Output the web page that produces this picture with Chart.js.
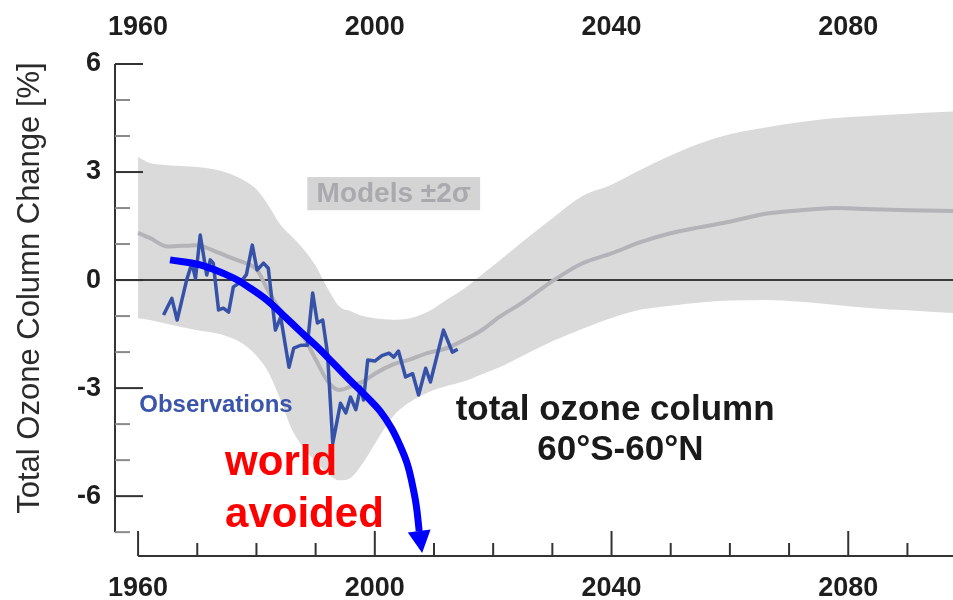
<!DOCTYPE html>
<html>
<head>
<meta charset="utf-8">
<script src="https://cdn.jsdelivr.net/npm/chart.js@4.4.1/dist/chart.umd.min.js"></script>
<style>
  html, body { margin: 0; padding: 0; background: #ffffff; }
  #wrap { width: 953px; height: 600px; position: relative; }
</style>
</head>
<body>
<div id="wrap"><canvas id="ozone"></canvas></div>
<script>
// ---- model ensemble (years, +2 sigma, -2 sigma, mean) ----
const bandYears = [1960, 1962, 1965, 1970, 1973, 1976, 1978, 1980, 1982, 1984,
                   1986, 1988, 1990, 1992, 1994, 1996, 1998, 2000, 2003, 2006,
                   2009, 2012, 2015, 2018, 2021, 2025, 2030, 2035, 2040, 2045,
                   2050, 2055, 2060, 2066, 2072, 2078, 2084, 2090, 2098];
const bandUpper = [3.42, 3.25, 3.19, 3.14, 3.07, 2.92, 2.76, 2.52, 2.08, 1.55,
                   1.20, 0.85, 0.40, -0.22, -0.73, -0.87, -1.00, -1.06, -1.10, -1.06,
                   -0.88, -0.56, -0.25, 0.14, 0.53, 1.07, 1.72, 2.33, 2.65, 3.07,
                   3.46, 3.80, 4.05, 4.24, 4.39, 4.50, 4.56, 4.62, 4.68];
const bandLower = [-1.06, -1.11, -1.22, -1.39, -1.47, -1.62, -1.80, -2.10, -2.55, -3.30,
                   -4.15, -4.66, -5.04, -5.37, -5.56, -5.48, -5.08, -4.55, -3.80, -3.38,
                   -3.12, -2.95, -2.82, -2.62, -2.43, -2.10, -1.70, -1.36, -1.05, -0.82,
                   -0.71, -0.62, -0.57, -0.55, -0.60, -0.69, -0.78, -0.84, -0.92];
const modelMean = [1.31, 1.17, 0.93, 0.97, 0.80, 0.60, 0.48, 0.30, -0.30, -0.85,
                   -1.25, -1.60, -2.20, -2.80, -3.05, -2.95, -2.82, -2.60, -2.35, -2.20,
                   -2.02, -1.90, -1.67, -1.40, -1.03, -0.62, -0.03, 0.46, 0.74, 1.06,
                   1.30, 1.47, 1.62, 1.84, 1.94, 2.00, 1.97, 1.94, 1.92];

// ---- observed total ozone anomaly ----
const obsYears = [1964.3, 1965.7, 1966.6, 1968.2, 1969.1, 1969.7, 1970.5, 1971.6, 1972.2, 1972.7,
                  1973.6, 1974.4, 1975.3, 1976.1, 1977.3, 1978.3, 1979.3, 1980.1, 1981.2, 1982.0,
                  1983.2, 1984.1, 1985.5, 1986.3, 1987.5, 1988.6, 1989.5, 1990.3, 1991.2, 1992.0,
                  1992.9, 1994.2, 1995.1, 1995.9, 1996.8, 1997.6, 1998.1, 1998.8, 2000.0, 2001.2,
                  2002.4, 2003.2, 2004.0, 2005.2, 2006.4, 2007.4, 2008.6, 2009.4, 2011.6, 2013.1,
                  2014.0];
const obsValues = [-0.97, -0.51, -1.11, 0.00, 0.47, 0.05, 1.25, 0.14, 0.56, 0.47,
                   -0.83, -0.78, -0.89, -0.19, -0.06, 0.15, 0.97, 0.28, 0.47, 0.33,
                   -1.39, -1.03, -2.42, -1.89, -1.81, -1.81, -0.36, -1.19, -1.11, -2.03,
                   -4.53, -3.42, -3.69, -3.25, -3.60, -2.97, -3.33, -2.22, -2.25, -2.10,
                   -2.03, -2.14, -1.97, -2.69, -2.60, -3.19, -2.45, -2.83, -1.39, -2.00,
                   -1.92];

// ---- "world avoided" trajectory ----
const arrowYears  = [1965.4, 1970.5, 1976.1, 1978.9, 1981.8, 1984.5, 1987.4, 1990.3, 1993.0,
                     1995.8, 1998.7, 2000.9, 2002.8, 2004.3, 2005.5, 2006.3, 2007.0, 2007.5];
const arrowValues = [0.56, 0.42, 0.06, -0.22, -0.56, -0.97, -1.42, -1.86, -2.31,
                     -2.78, -3.25, -3.64, -4.11, -4.61, -5.11, -5.64, -6.25, -6.97];
const arrowTip = { year: 2008.0, value: -7.58 };

// ---- axes ----
const xTickYears = [1960, 2000, 2040, 2080];
const yTickValues = [-6, -3, 0, 3, 6];
const X_MIN = 1956.1, X_MAX = 2097.7;
const Y_MIN = -7.69, Y_MAX = 6;
const FONT = "'Liberation Sans', Arial, Helvetica, sans-serif";

const pts = (xs, ys) => xs.map((x, i) => ({ x: x, y: ys[i] }));

// Separated axes with inward ticks, axis title, arrowhead and labels
const decorations = {
  id: 'decorations',
  afterDatasetsDraw(chart) {
    const { ctx, chartArea, scales } = chart;
    const x = scales.x, y = scales.y;
    ctx.save();

    // arrowhead at the end of the trajectory
    const meta = chart.getDatasetMeta(0);
    const last = meta.data[meta.data.length - 1];
    const tx = x.getPixelForValue(arrowTip.year), ty = y.getPixelForValue(arrowTip.value);
    const dx = tx - last.x, dy = ty - last.y, len = Math.hypot(dx, dy);
    const nx = -dy / len, ny = dx / len, hw = 11.5;
    ctx.fillStyle = '#0000ff';
    ctx.beginPath();
    ctx.moveTo(tx, ty);
    ctx.lineTo(last.x + nx * hw, last.y + ny * hw);
    ctx.lineTo(last.x - nx * hw, last.y - ny * hw);
    ctx.closePath();
    ctx.fill();

    // left axis
    const ax = chartArea.left;
    ctx.lineWidth = 2;
    ctx.lineCap = 'butt';
    ctx.strokeStyle = '#333333';
    ctx.beginPath();
    ctx.moveTo(ax, y.getPixelForValue(6));
    ctx.lineTo(ax, y.getPixelForValue(-7));
    ctx.stroke();
    for (let v = -7; v <= 6; v++) {
      const py = y.getPixelForValue(v);
      const major = v % 3 === 0;
      ctx.strokeStyle = major ? '#333333' : '#8a8a8a';
      ctx.beginPath();
      ctx.moveTo(ax, py);
      ctx.lineTo(ax + (major ? 28 : 15), py);
      ctx.stroke();
    }

    // bottom axis
    const by = chartArea.bottom - 1;
    ctx.strokeStyle = '#333333';
    ctx.beginPath();
    ctx.moveTo(x.getPixelForValue(1960), by);
    ctx.lineTo(chartArea.right, by);
    ctx.stroke();
    for (let yr = 1960; yr <= X_MAX; yr += 10) {
      const px = x.getPixelForValue(yr);
      const major = (yr - 1960) % 40 === 0;
      ctx.beginPath();
      ctx.moveTo(px, by);
      ctx.lineTo(px, by - (major ? 25 : 13));
      ctx.stroke();
    }

    // axis title
    ctx.save();
    ctx.translate(30, 288);
    ctx.rotate(-Math.PI / 2);
    ctx.fillStyle = '#2b2b2b';
    ctx.font = `31px ${FONT}`;
    ctx.textAlign = 'center';
    ctx.textBaseline = 'middle';
    ctx.fillText('Total Ozone Column Change [%]', 0, 0);
    ctx.restore();

    // series labels
    ctx.textBaseline = 'middle';
    ctx.textAlign = 'left';
    ctx.fillStyle = '#3a55aa';
    ctx.font = `bold 24px ${FONT}`;
    ctx.fillText('Observations', x.getPixelForValue(1960.2), y.getPixelForValue(-3.47));

    const mx0 = x.getPixelForValue(1988.6), mx1 = x.getPixelForValue(2017.8);
    const my0 = y.getPixelForValue(2.86), my1 = y.getPixelForValue(1.94);
    ctx.fillStyle = '#d4d4d4';
    ctx.fillRect(mx0, my0, mx1 - mx0, my1 - my0);
    ctx.fillStyle = '#a9a9ae';
    ctx.font = `bold 28px ${FONT}`;
    ctx.textAlign = 'center';
    ctx.fillText('Models \u00b12\u03c3', (mx0 + mx1) / 2, (my0 + my1) / 2 + 1);

    ctx.fillStyle = '#1a1a1a';
    ctx.font = `bold 35px ${FONT}`;
    ctx.fillText('total ozone column', x.getPixelForValue(2040.6), y.getPixelForValue(-3.61));
    ctx.fillText('60\u00b0S-60\u00b0N', x.getPixelForValue(2041.5), y.getPixelForValue(-4.72));

    ctx.fillStyle = '#ff0000';
    ctx.font = `bold 42px ${FONT}`;
    ctx.textAlign = 'left';
    ctx.textBaseline = 'alphabetic';
    ctx.fillText('world', x.getPixelForValue(1974.7), y.getPixelForValue(-5.42));
    ctx.fillText('avoided', x.getPixelForValue(1974.7), y.getPixelForValue(-6.86));

    ctx.restore();
  }
};

const tickFont = { family: FONT, size: 27, weight: 'bold' };

new Chart(document.getElementById('ozone'), {
  type: 'line',
  data: {
    datasets: [
      { // world avoided trajectory
        data: pts(arrowYears, arrowValues),
        borderColor: '#0000ff', borderWidth: 7, tension: 0.4,
        pointRadius: 0, fill: false
      },
      { // observations
        data: pts(obsYears, obsValues),
        borderColor: '#3652a8', borderWidth: 3.5, tension: 0,
        pointRadius: 0, fill: false, borderJoinStyle: 'round'
      },
      { // model mean
        data: pts(bandYears, modelMean),
        borderColor: '#b3b3b8', borderWidth: 4,
        cubicInterpolationMode: 'monotone', pointRadius: 0, fill: false
      },
      { // zero reference
        data: [{ x: X_MIN, y: 0 }, { x: X_MAX, y: 0 }],
        borderColor: '#3a3a3a', borderWidth: 2, pointRadius: 0, fill: false
      },
      { // +2 sigma
        data: pts(bandYears, bandUpper),
        borderWidth: 0, borderColor: 'rgba(0,0,0,0)',
        backgroundColor: '#dadada', fill: '+1',
        cubicInterpolationMode: 'monotone', pointRadius: 0
      },
      { // -2 sigma
        data: pts(bandYears, bandLower),
        borderWidth: 0, borderColor: 'rgba(0,0,0,0)',
        fill: false, cubicInterpolationMode: 'monotone', pointRadius: 0
      }
    ]
  },
  options: {
    responsive: true,
    maintainAspectRatio: false,
    animation: false,
    layout: { padding: 0 },
    plugins: { legend: { display: false }, tooltip: { enabled: false } },
    scales: {
      x: {
        type: 'linear', position: 'bottom', min: X_MIN, max: X_MAX,
        grid: { display: false, drawTicks: false }, border: { display: false },
        ticks: { font: tickFont, color: '#1e1e1e', padding: 15, maxRotation: 0,
                 callback: v => String(v) },
        afterBuildTicks: s => { s.ticks = xTickYears.map(v => ({ value: v })); },
        afterFit: s => { s.height = 43; }
      },
      xTop: {
        type: 'linear', position: 'top', min: X_MIN, max: X_MAX,
        grid: { display: false, drawTicks: false }, border: { display: false },
        ticks: { font: tickFont, color: '#1e1e1e', padding: 20, maxRotation: 0,
                 callback: v => String(v) },
        afterBuildTicks: s => { s.ticks = xTickYears.map(v => ({ value: v })); },
        afterFit: s => { s.height = 64; }
      },
      y: {
        type: 'linear', position: 'left', min: Y_MIN, max: Y_MAX,
        grid: { display: false, drawTicks: false }, border: { display: false },
        ticks: { font: tickFont, color: '#1e1e1e', padding: 14,
                 callback: v => String(v) },
        afterBuildTicks: s => { s.ticks = yTickValues.map(v => ({ value: v })); },
        afterFit: s => { s.width = 115; }
      }
    }
  },
  plugins: [decorations]
});
</script>
</body>
</html>
